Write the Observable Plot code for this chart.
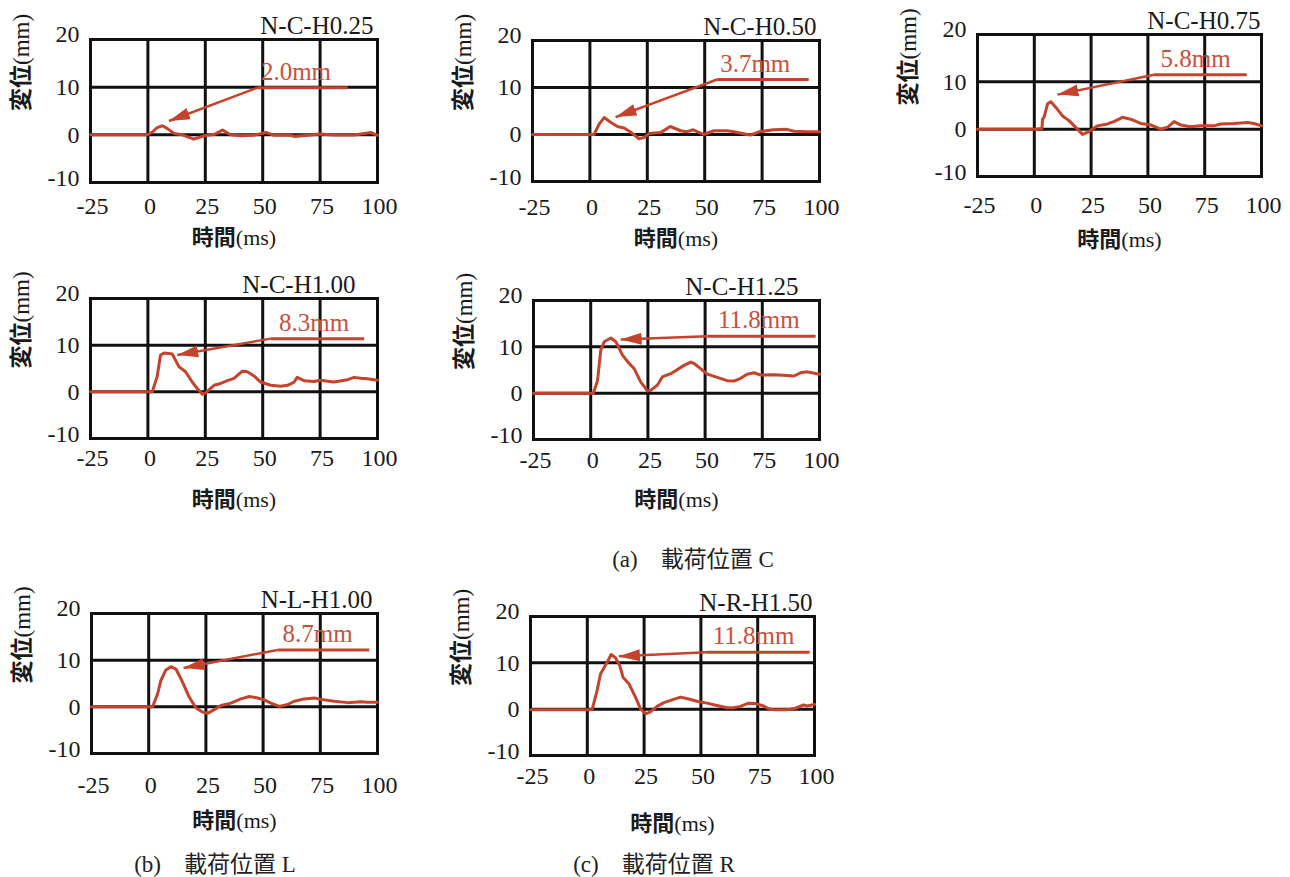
<!DOCTYPE html>
<html><head><meta charset="utf-8">
<script src="https://cdn.jsdelivr.net/npm/d3@7"></script>
<script src="https://cdn.jsdelivr.net/npm/@observablehq/plot@0.6"></script>
<style>
html,body{margin:0;padding:0;background:#fff;}
body{width:1290px;height:877px;position:relative;overflow:hidden;}
.panel{position:absolute;}
.panel svg{max-width:none !important;}
.cap{position:absolute;font-family:"Liberation Serif","Noto Sans CJK JP",serif;font-size:23px;color:#222;white-space:pre;transform:translate(-50%,-50%);}
</style></head><body>
<script>
// ---------- data ----------
const panelNames = ["N-C-H0.25","N-C-H0.50","N-C-H0.75","N-C-H1.00","N-C-H1.25","N-L-H1.00","N-R-H1.50"];
const peakLabels = ["2.0mm","3.7mm","5.8mm","8.3mm","11.8mm","8.7mm","11.8mm"];
const xTickLabels = [-25, 0, 25, 50, 75, 100];
const yTickLabels = [-10, 0, 10, 20];
const xGridLines = [0, 25, 50, 75];
const yGridLines = [0, 10];

const t_C025 = [-25,-0.3,2,4,6.3,8.5,11.4,15,20,24.5,29,32.5,36,40.5,46,51.4,55,62,64,69.6,75,81,90,97,100];
const v_C025 = [0,0,0.6,1.5,1.9,1.3,0.3,0,-0.9,-0.2,0.1,1.0,0,-0.2,-0.1,0.5,-0.1,-0.1,-0.35,-0.1,0.15,-0.05,-0.05,0.5,-0.1];

const t_C050 = [-25,1.8,4,6.2,9,12,14.9,17.8,21.4,23.6,25.7,30.8,35,39.5,42.4,45,49.6,54,59.8,62.7,68.5,70,74,80,85.8,88.8,94.6,100];
const v_C050 = [0,0,2.2,3.6,2.6,1.7,1.4,0.5,-0.9,-0.6,0.2,0.4,1.7,0.8,0.6,1.0,0,0.8,0.8,0.6,0,-0.1,0.6,1.0,1.1,0.7,0.6,0.6];

const t_C075 = [-25,1.4,3.4,3.6,4.3,5.8,7.3,9.5,12.4,15.3,19,21.2,24.1,27.8,32.2,35,38.8,42.4,46.8,51.2,55.6,58.6,61.5,64.4,68.8,73.2,79,82,87.9,93.8,96.7,100];
const v_C075 = [0,0,0.2,2.1,2.5,5.3,5.8,4.6,2.8,1.8,0,-1.1,-0.5,0.7,1.1,1.6,2.5,2.1,1.2,0.9,0,0.4,1.6,0.9,0.5,0.7,0.7,1.1,1.2,1.4,1.2,0.7];

const t_C100 = [-25,1.9,4,5.5,7,10.6,13.5,16.4,19.3,21.5,23.7,25.1,28.8,31.7,34.6,37.5,41,43.3,46.2,49.1,53.5,57.8,60.8,63.7,65,68,72.4,75,81,87,89.8,92.7,95.6,100];
const v_C100 = [0,0,3.2,7.9,8.3,8.1,5.4,4.3,2.1,0.7,-0.5,-0.2,1.4,1.8,2.4,2.9,4.4,4.3,3.4,2.1,1.4,1.2,1.4,2.1,3.1,2.4,2.2,2.5,2.1,2.6,3.1,2.9,2.8,2.5];

const t_C125 = [-25,1.2,3,4.4,5.9,8.8,11,13.9,16.8,19,21.9,24.8,26.2,29.1,31.3,35,37.9,40.8,43.7,45.2,48,51,55.3,59.7,62.6,65.5,68.4,71.4,74.3,80,86,88.8,91.7,94.6,100];
const v_C125 = [0,0,2.8,9.3,11.1,11.9,11.1,8.2,6.4,5.3,2.4,0.5,0.6,1.7,3.5,4.2,5.1,6.0,6.7,6.4,5.3,4.1,3.4,2.7,2.6,3.2,4.1,4.4,3.9,4.0,3.8,3.7,4.4,4.6,4.1];

const t_L100 = [-25,1.7,3.9,5.3,7.5,9.7,11.9,14.8,17.7,20.6,23.5,25.7,28.6,31.6,35.9,40.3,44,47.6,50.5,53.4,57.1,60.7,63.6,68,72.4,75.3,81.1,86.9,92.8,95.7,100];
const v_L100 = [0,0,2.8,5.6,7.9,8.6,8.1,5.3,2.1,-0.2,-1.1,-1.4,-0.6,0.3,0.8,1.7,2.2,1.9,1.5,0.8,0.1,0.5,1.2,1.7,1.9,1.6,1.2,0.9,1.1,1.0,1.0];

const t_R150 = [-25,2.1,4.3,5.8,7.3,8.7,10.5,12.4,14.3,15.7,18.3,21.2,23.4,25.6,27.8,30.7,33.7,38,41,44.6,48.3,52.7,57.1,61.5,64.4,67.4,71,74,76.9,79.8,82,87.9,91.6,95.2,96.7,100];
const v_R150 = [-0.15,-0.15,4.0,7.6,8.9,10.1,11.8,11.1,9.4,6.9,5.5,2.6,0.1,-1.0,-0.6,0.6,1.4,2.1,2.6,2.2,1.7,1.3,0.8,0.3,0.3,0.6,1.3,1.2,0.8,0.1,-0.1,-0.1,0.2,0.9,0.7,1.0];

const seriesT = [t_C025,t_C050,t_C075,t_C100,t_C125,t_L100,t_R150];
const seriesV = [v_C025,v_C050,v_C075,v_C100,v_C125,v_L100,v_R150];

// annotation (data units): leader start/end, leader height, arrow tip, label x
const annStartX = [47.8,55.4,52.7,53.5,51,56.3,52.7];
const annEndX   = [87,95.3,93.5,94.2,98.3,96.4,97.9];
const annY      = [9.9,11.7,11.5,11.4,12.3,12.2,12.3];
const tipX      = [9.2,11.2,10.2,12.8,13.1,15.2,13.9];
const tipY      = [2.9,3.7,7.3,7.9,11.6,8.3,11.4];
const labelX    = [64.5,72,71,72.4,73.5,73.8,73.2];

const captions = ["(a)\u3000載荷位置 C","(b)\u3000載荷位置 L","(c)\u3000載荷位置 R"];

// ---------- layout (page pixels of each frame) ----------
const frames = [
  {L:90,T:39,R:377,B:182, tdx:-4, xt:24, xl:55},
  {L:532,T:40,R:819,B:181, tdx:-3, xt:26, xl:57},
  {L:977,T:34,R:1261,B:176, tdx:-1, xt:29, xl:63},
  {L:90,T:298,R:377,B:438, tdx:-22, xt:20, xl:61},
  {L:533,T:300,R:819,B:439, tdx:-21, xt:21, xl:60},
  {L:91,T:613,R:377,B:753, tdx:-5, xt:32, xl:67},
  {L:530,T:616,R:814,B:755, tdx:-2, xt:21, xl:68}
];
const capPos = [{x:693,y:557},{x:215,y:862},{x:654,y:862}];

const RED = "#c5432c";
const RED_TEXT = "#c9503b";
const INK = "#1a1a1a";
const SERIF = "'Liberation Serif','Noto Sans CJK JP',serif";
const NUMFONT = "'Liberation Serif',serif";

const headMarker = (color) => {
  const m = d3.create("svg:marker")
    .attr("viewBox","-21 -6.5 21 13")
    .attr("markerWidth",21).attr("markerHeight",13)
    .attr("markerUnits","userSpaceOnUse")
    .attr("orient","auto").attr("refX",0).attr("refY",0)
    .attr("fill",color).attr("stroke","none");
  m.append("path").attr("d","M-21,-6L0,0L-21,6Z");
  return m.node();
};

function splitLabel(svg, label, cjkLen) {
  svg.querySelectorAll("text, tspan").forEach(el => {
    if (el.childElementCount === 0 && el.textContent === label) {
      el.textContent = "";
      const ns = "http://www.w3.org/2000/svg";
      const a = document.createElementNS(ns, "tspan");
      a.setAttribute("font-weight","bold");
      a.setAttribute("font-family","'Noto Sans CJK JP',sans-serif");
      a.textContent = label.slice(0, cjkLen);
      const b = document.createElementNS(ns, "tspan");
      b.setAttribute("font-weight","normal");
      b.setAttribute("font-family","'Liberation Serif',serif");
      b.textContent = label.slice(cjkLen);
      el.appendChild(a); el.appendChild(b);
    }
  });
}

const ml = 100, mt = 45, mr = 30, mb = 75;

panelNames.forEach((name, i) => {
  const f = frames[i];
  const data = seriesT[i].map((t, k) => ({t, v: seriesV[i][k]}));
  const ann = [{x1: annStartX[i], x2: annEndX[i], y: annY[i], tx: tipX[i], ty: tipY[i], lx: labelX[i], label: peakLabels[i]}];
  const W = (f.R - f.L) + ml + mr, H = (f.B - f.T) + mt + mb;
  const num = {fontFamily: NUMFONT, fill: INK};
  const chart = Plot.plot({
    width: W, height: H,
    marginLeft: ml, marginTop: mt, marginRight: mr, marginBottom: mb,
    x: {domain: [-25, 100], axis: null},
    y: {domain: [-10, 20], axis: null},
    style: {fontFamily: SERIF, background: "transparent", overflow: "visible", color: INK},
    marks: [
      Plot.ruleX(xGridLines, {x: d => d, stroke: "#111", strokeWidth: 3}),
      Plot.ruleY(yGridLines, {y: d => d, stroke: "#111", strokeWidth: 3}),
      Plot.frame({stroke: "#111", strokeWidth: 3}),
      Plot.line(data, {x: "t", y: "v", stroke: RED, strokeWidth: 3, strokeLinejoin: "round", curve: "linear"}),
      Plot.link(ann, {x1: "x1", y1: "y", x2: "x2", y2: "y", stroke: RED, strokeWidth: 3}),
      Plot.link(ann, {x1: "x1", y1: "y", x2: "tx", y2: "ty", stroke: RED, strokeWidth: 2.5, markerEnd: headMarker}),
      Plot.text(ann, {x: "lx", y: "y", text: "label", fill: RED_TEXT, fontFamily: NUMFONT, fontSize: 25, lineAnchor: "middle", dy: -16}),
      Plot.text(xTickLabels, {...num, x: d => d, text: d => `${d}`, frameAnchor: "bottom", lineAnchor: "middle", dy: f.xt, dx: 2, fontSize: 24}),
      Plot.text(yTickLabels.filter(d => d === 0 || d === 10), {...num, y: d => d, text: d => `${d}`, frameAnchor: "left", lineAnchor: "middle", dx: -11, textAnchor: "end", fontSize: 24}),
      Plot.text(yTickLabels.filter(d => d === 20), {...num, y: d => d, text: d => `${d}`, frameAnchor: "left", lineAnchor: "middle", dx: -11, dy: -5, textAnchor: "end", fontSize: 24}),
      Plot.text(yTickLabels.filter(d => d === -10), {...num, y: d => d, text: d => `${d}`, frameAnchor: "left", lineAnchor: "middle", dx: -11, dy: -4, textAnchor: "end", fontSize: 24}),
      Plot.text([name], {...num, text: d => d, frameAnchor: "top-right", lineAnchor: "middle", textAnchor: "end", dx: f.tdx, dy: -14, fontSize: 25}),
      Plot.text(["時間(ms)"], {text: d => d, frameAnchor: "bottom", lineAnchor: "middle", dy: f.xl, fontSize: 22, fill: INK}),
      Plot.text(["変位(mm)"], {text: d => d, frameAnchor: "left", lineAnchor: "middle", dx: -69, rotate: -90, fontSize: 23, fill: INK})
    ]
  });
  splitLabel(chart, "時間(ms)", 2);
  splitLabel(chart, "変位(mm)", 2);
  const div = document.createElement("div");
  div.className = "panel";
  div.style.left = (f.L - ml) + "px";
  div.style.top = (f.T - mt) + "px";
  div.style.width = W + "px";
  div.style.height = H + "px";
  div.appendChild(chart);
  document.body.appendChild(div);
});

captions.forEach((c, i) => {
  const d = document.createElement("div");
  d.className = "cap";
  d.textContent = c;
  d.style.left = capPos[i].x + "px";
  d.style.top = capPos[i].y + "px";
  document.body.appendChild(d);
});
</script>
</body></html>
